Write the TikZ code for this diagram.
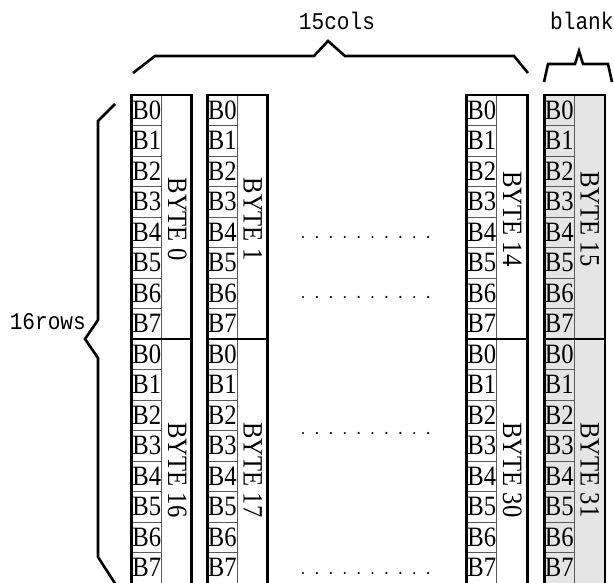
\documentclass[tikz,border=0pt]{standalone}
\usepackage{fontspec}
\setmainfont{Liberation Serif}
\setmonofont{Liberation Mono}
\newfontfamily\bitfont[FakeStretch=0.88]{Liberation Serif}
\newfontfamily\dimfont[FakeStretch=0.88]{Liberation Mono}
\usetikzlibrary{positioning}
\definecolor{blankgray}{RGB}{229,229,229}
\tikzset{
  bitcell/.style={draw=black!65, line width=0.8pt, minimum width=30pt, minimum height=30.5pt,
    inner sep=0pt, outer sep=0pt, anchor=north west, font=\bitfont\fontsize{28}{28}\selectfont},
  bytebox/.style={draw, line width=2.6pt},
  bytelabel/.style={rotate=-90, inner sep=0pt, font=\bitfont\fontsize{28}{28}\selectfont},
  brace/.style={line width=2.6pt, line join=miter},
  dimlabel/.style={inner sep=0pt, font=\dimfont\fontsize{24}{24}\selectfont},
}
\begin{document}
\begin{tikzpicture}[x=1pt,y=-1pt]
  \useasboundingbox (0,0) rectangle (614,583);
  % columns: byte number of upper block / left edge
  \foreach \n/\x in {0/131.7, 1/207.3, 14/466.7, 15/544.3} {
    \pgfmathtruncatemacro{\m}{\n+16}
    \ifnum\n=15
      \fill[blankgray] (\x,95) rectangle (\x+61,600);
    \fi
    \foreach \r in {0,...,7} {
      \node[bitcell] (u\n-\r) at (\x,95+30.5*\r) {B\r};
      \node[bitcell] (l\n-\r) at (\x,339+30.5*\r) {B\r};
    }
    \node[bytelabel] (byte\n) at (\x+45.5,219) {BYTE \n};
    \node[bytelabel] (byte\m) at (\x+45.5,470) {BYTE \m};
    \draw[bytebox] (\x,95) rectangle (\x+60+0.7*\n/15,339);
    \draw[bytebox] (\x,339) rectangle (\x+60+0.7*\n/15,600);
  }
  % dotted rows between the columns
  \foreach \y in {237,297,433,573}
    \foreach \i in {0,...,9}
      \fill (303+13.9*\i,\y) circle (1.2pt);
  % braces
  \node[dimlabel] (cols) at (337,21) {15cols};
  \node[dimlabel, anchor=west] (blank) at (550,21) {blank};
  \node[dimlabel, anchor=east] (rows) at (86,322) {16rows};
  \draw[brace] (133,73) -- (155,56) -- (314,56) -- (328,41) -- (345,56) -- (514,56) -- (528,73);
  \draw[brace] (544,82) -- (548,64) -- (575,64) -- (579,51) -- (583,64) -- (608,64) -- (612,82);
  \draw[brace] (115,104) -- (98,121) -- (98,320) -- (85,339) -- (98,358) -- (98,557) -- (118,588);
\end{tikzpicture}
\end{document}
